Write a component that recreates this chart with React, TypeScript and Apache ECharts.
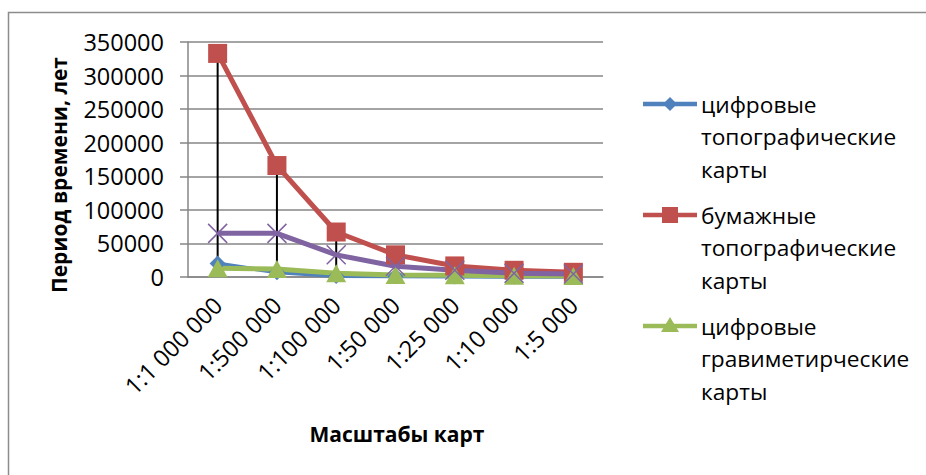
import React, { useEffect, useRef } from 'react';
import * as echarts from 'echarts';

const categories = ['1:1 000 000', '1:500 000', '1:100 000', '1:50 000', '1:25 000', '1:10 000', '1:5 000'];
const seriesNames = ['цифровые\nтопографические\nкарты', 'бумажные\nтопографические\nкарты', 'цифровые\nгравиметирческие\nкарты', 'ряд 4'];
const digitalTopo = [20000, 7000, 1500, 1000, 600, 300, 200];
const paperTopo = [333000, 166000, 67000, 33000, 16500, 10000, 7000];
const digitalGrav = [13000, 12000, 5500, 3000, 2500, 2000, 1500];
const series4 = [65000, 65000, 33000, 16000, 10000, 5500, 4500];
const lowBound = [0, 0, 0, 0, 0, 0, 0];
const yTicks = [0, 50000, 100000, 150000, 200000, 250000, 300000, 350000];

const colors = ['#4F81BD', '#C0504D', '#9BBB59', '#8064A2'];
const FONT = '"Open Sans", "Noto Sans", sans-serif';

export default function App() {
  const ref = useRef<HTMLDivElement>(null);
  useEffect(() => {
    const chart = echarts.init(ref.current!, null, { renderer: 'svg' });
    const all = [digitalTopo, paperTopo, digitalGrav, series4];
    const hiLo = categories.map((_, i) => [
      i,
      Math.max(...all.map((a) => a[i])),
      Math.min(lowBound[i], ...all.map((a) => a[i])),
    ]);

    const legendGraphics: any[] = [];
    const legendTop = 104;
    const legendStep = 111;
    const symbols = ['diamond', 'rect', 'triangle'];
    for (let i = 0; i < 3; i++) {
      const y = legendTop + legendStep * i;
      const c = colors[i];
      legendGraphics.push({
        type: 'line',
        shape: { x1: 643, y1: y, x2: 697, y2: y },
        style: { stroke: c, lineWidth: 4.5 },
      });
      if (symbols[i] === 'diamond') {
        legendGraphics.push({
          type: 'polygon',
          shape: { points: [[670, y - 7], [677, y], [670, y + 7], [663, y]] },
          style: { fill: c },
        });
      } else if (symbols[i] === 'rect') {
        legendGraphics.push({
          type: 'rect',
          shape: { x: 662, y: y - 8, width: 16, height: 16 },
          style: { fill: c },
        });
      } else {
        legendGraphics.push({
          type: 'polygon',
          shape: { points: [[670, y - 9], [679, y + 6], [661, y + 6]] },
          style: { fill: c },
        });
      }
      legendGraphics.push({
        type: 'text',
        x: 701,
        y: y - 16,
        style: {
          text: seriesNames[i],
          font: `22.7px ${FONT}`,
          fill: '#000',
          lineHeight: 32.5,
          align: 'left',
          verticalAlign: 'top',
        },
      });
    }

    const option: any = {
      animation: false,
      backgroundColor: '#fff',
      grid: { left: 188, right: 323, top: 42, bottom: 198, containLabel: false },
      xAxis: {
        type: 'category',
        data: categories,
        boundaryGap: true,
        axisLine: { show: true, lineStyle: { color: '#868686', width: 1.5 } },
        axisTick: { show: false },
        axisLabel: {
          rotate: 45,
          margin: 24,
          padding: [28, 0, 0, 0],
          fontSize: 23.5,
          fontFamily: FONT,
          color: '#000',
          interval: 0,
        },
      },
      yAxis: {
        type: 'value',
        min: 0,
        max: 350000,
        interval: 50000,
        axisLine: { show: true, lineStyle: { color: '#868686', width: 1.5 } },
        axisTick: { show: true, inside: false, length: 8, lineStyle: { color: '#868686', width: 1.5 } },
        splitLine: { show: true, lineStyle: { color: '#868686', width: 1.5 } },
        axisLabel: {
          margin: 24,
          fontSize: 23.5,
          fontFamily: FONT,
          color: '#000',
          formatter: (v: number) => (yTicks.includes(v) ? String(v) : ''),
        },
      },
      series: [
        {
          name: seriesNames[0],
          type: 'line',
          data: digitalTopo,
          symbol: 'diamond',
          symbolSize: 16,
          lineStyle: { color: colors[0], width: 4 },
          itemStyle: { color: colors[0] },
        },
        {
          name: seriesNames[1],
          type: 'line',
          data: paperTopo,
          symbol: 'rect',
          symbolSize: 19,
          lineStyle: { color: colors[1], width: 5 },
          itemStyle: { color: colors[1] },
        },
        {
          name: seriesNames[2],
          type: 'line',
          data: digitalGrav,
          symbol: 'triangle',
          symbolSize: [20, 18],
          lineStyle: { color: colors[2], width: 5 },
          itemStyle: { color: colors[2] },
        },
        {
          name: seriesNames[3],
          type: 'line',
          data: series4,
          symbol: 'path://M0,0L10,10M10,0L0,10',
          symbolSize: 19,
          lineStyle: { color: colors[3], width: 5 },
          itemStyle: { color: 'none', borderColor: colors[3], borderWidth: 1.5 },
        },
        {
          name: 'hilo',
          type: 'custom',
          data: hiLo,
          encode: { x: 0, y: [1, 2] },
          renderItem: (params: any, api: any) => {
            const top = api.coord([api.value(0), api.value(1)]);
            const bot = api.coord([api.value(0), api.value(2)]);
            return {
              type: 'line',
              shape: { x1: top[0], y1: top[1], x2: bot[0], y2: bot[1] },
              style: { stroke: '#000', lineWidth: 2 },
            };
          },
        },
      ],
      graphic: [
        {
          type: 'rect',
          shape: { x: 8.5, y: 12.5, width: 960, height: 500 },
          style: { fill: 'none', stroke: '#8c8c8c', lineWidth: 1.5 },
          silent: true,
        },
        {
          type: 'text',
          x: 59,
          y: 175,
          rotation: Math.PI / 2,
          style: {
            text: 'Период времени, лет',
            font: `bold 21px ${FONT}`,
            fill: '#000',
            align: 'center',
            verticalAlign: 'middle',
          },
        },
        {
          type: 'text',
          x: 397,
          y: 434,
          style: {
            text: 'Масштабы карт',
            font: `bold 21px ${FONT}`,
            fill: '#000',
            align: 'center',
            verticalAlign: 'middle',
          },
        },
        ...legendGraphics,
      ],
    };
    chart.setOption(option);
    return () => chart.dispose();
  }, []);
  return (
    <div
      ref={ref}
      style={{ position: 'fixed', left: 0, top: 0, width: 926, height: 475, background: '#fff' }}
    />
  );
}
